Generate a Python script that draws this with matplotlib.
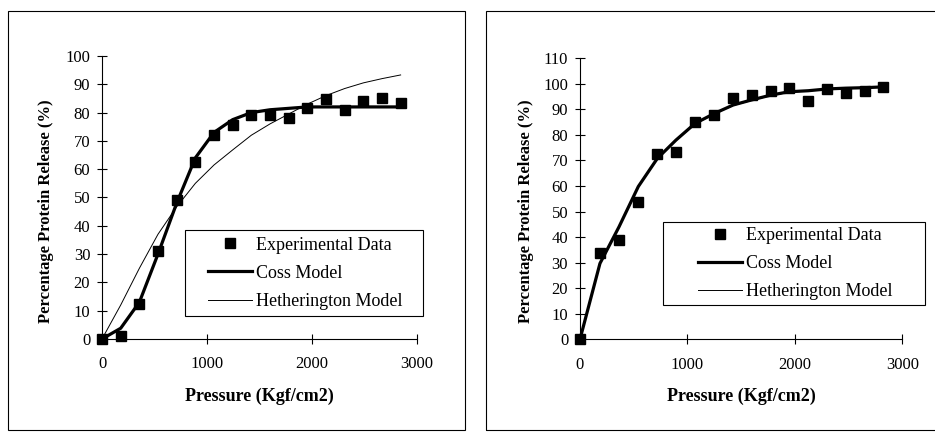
import matplotlib
matplotlib.use("Agg")
import matplotlib.pyplot as plt
from matplotlib.patches import Rectangle

plt.rcParams['font.family'] = ['Liberation Serif', 'DejaVu Serif']

# left panel
pressure_a = [0, 178, 356, 533, 711, 889, 1067, 1244, 1422, 1600, 1778, 1956, 2133, 2311, 2489, 2667, 2844]
exp_a = [0, 1, 12.4, 31, 49, 62.7, 72, 75.5, 79, 79, 78, 81.5, 84.7, 80.9, 84, 85.3, 83.5]
coss_a = [0, 3.8, 13, 30, 48, 64, 73, 77.5, 80, 81, 81.5, 82, 82, 82, 82, 82, 82]
heth_a = [0, 12, 25, 37, 46.7, 55, 61.5, 66.8, 72, 76, 79.5, 83, 86, 88.5, 90.5, 92, 93.3]

# right panel
pressure_b = [0, 186, 363, 543, 720, 894, 1071, 1251, 1425, 1598, 1778, 1948, 2125, 2302, 2473, 2653, 2824]
exp_b = [0, 33.7, 38.9, 53.9, 72.5, 73.4, 85.2, 87.8, 94.6, 95.6, 97.2, 98.2, 93.4, 98, 96.3, 97.3, 98.6]
coss_b = [0, 29.7, 44, 59.8, 70.8, 78, 84.5, 88.4, 91.7, 93.7, 95.6, 96.9, 97.3, 98, 98.3, 98.5, 98.8]
heth_b = [0, 29.5, 43.8, 59.6, 70.6, 77.8, 84.3, 88.2, 91.5, 93.5, 95.4, 96.7, 97.2, 97.9, 98.2, 98.4, 98.7]

fig = plt.figure(figsize=(9.35, 4.33), dpi=100)

# chart area frames
fig.patches.append(Rectangle((8 / 935, 3 / 433), 457 / 935, 419 / 433, transform=fig.transFigure,
                             fill=False, edgecolor='black', linewidth=0.8))
fig.patches.append(Rectangle((486 / 935, 3 / 433), 460 / 935, 419 / 433, transform=fig.transFigure,
                             fill=False, edgecolor='black', linewidth=0.8))


def draw(ax, x, exp, coss, heth, ymax, box, anchor, ylab_xy):
    ax.plot(x, coss, color='black', linewidth=2.3, label='Coss Model', zorder=2, clip_on=False)
    ax.plot(x, heth, color='black', linewidth=0.7, label='Hetherington Model', zorder=3, clip_on=False)
    ax.plot(x, exp, linestyle='none', marker='s', markersize=7, color='black',
            label='Experimental Data', zorder=4, clip_on=False)
    ax.set_xlim(0, 3000)
    ax.set_ylim(0, ymax)
    ax.set_xticks([0, 1000, 2000, 3000])
    ax.set_yticks(range(0, ymax + 1, 10))
    ax.spines['top'].set_visible(False)
    ax.spines['right'].set_visible(False)
    ax.spines['left'].set_linewidth(0.8)
    ax.spines['bottom'].set_linewidth(0.8)
    ax.tick_params(direction='inout', length=7, width=0.8, labelsize=12, pad=5)
    ax.tick_params(axis='x', pad=9)
    ax.set_xlabel('Pressure (Kgf/cm2)', fontsize=13, fontweight='bold', labelpad=11)
    ax.set_ylabel('Percentage Protein Release (%)', fontsize=12, fontweight='bold')
    ax.yaxis.set_label_coords(*ylab_xy)
    h, l = ax.get_legend_handles_labels()
    order = [2, 0, 1]
    ax.legend([h[i] for i in order], [l[i] for i in order], loc='upper left',
              bbox_to_anchor=anchor, fontsize=13, frameon=False, borderpad=0,
              borderaxespad=0, handlelength=2.45, handletextpad=0.2, labelspacing=0.62)
    ax.add_patch(Rectangle(box[:2], box[2], box[3], transform=ax.transAxes, fill=False,
                           edgecolor='black', linewidth=0.8, clip_on=False, zorder=5))


ax1 = fig.add_axes([0.1091, 0.2171, 0.3369, 0.6536])
draw(ax1, pressure_a, exp_a, coss_a, heth_a, 100, (0.263, 0.081, 0.756, 0.304),
     (0.3365, 0.362), (-0.152, 0.452))

ax2 = fig.add_axes([0.6203, 0.2164, 0.3447, 0.649])
draw(ax2, pressure_b, exp_b, coss_b, heth_b, 110, (0.2575, 0.122, 0.813, 0.295),
     (0.366, 0.400), (-0.142, 0.457))

fig.savefig('out.png', dpi=100)
